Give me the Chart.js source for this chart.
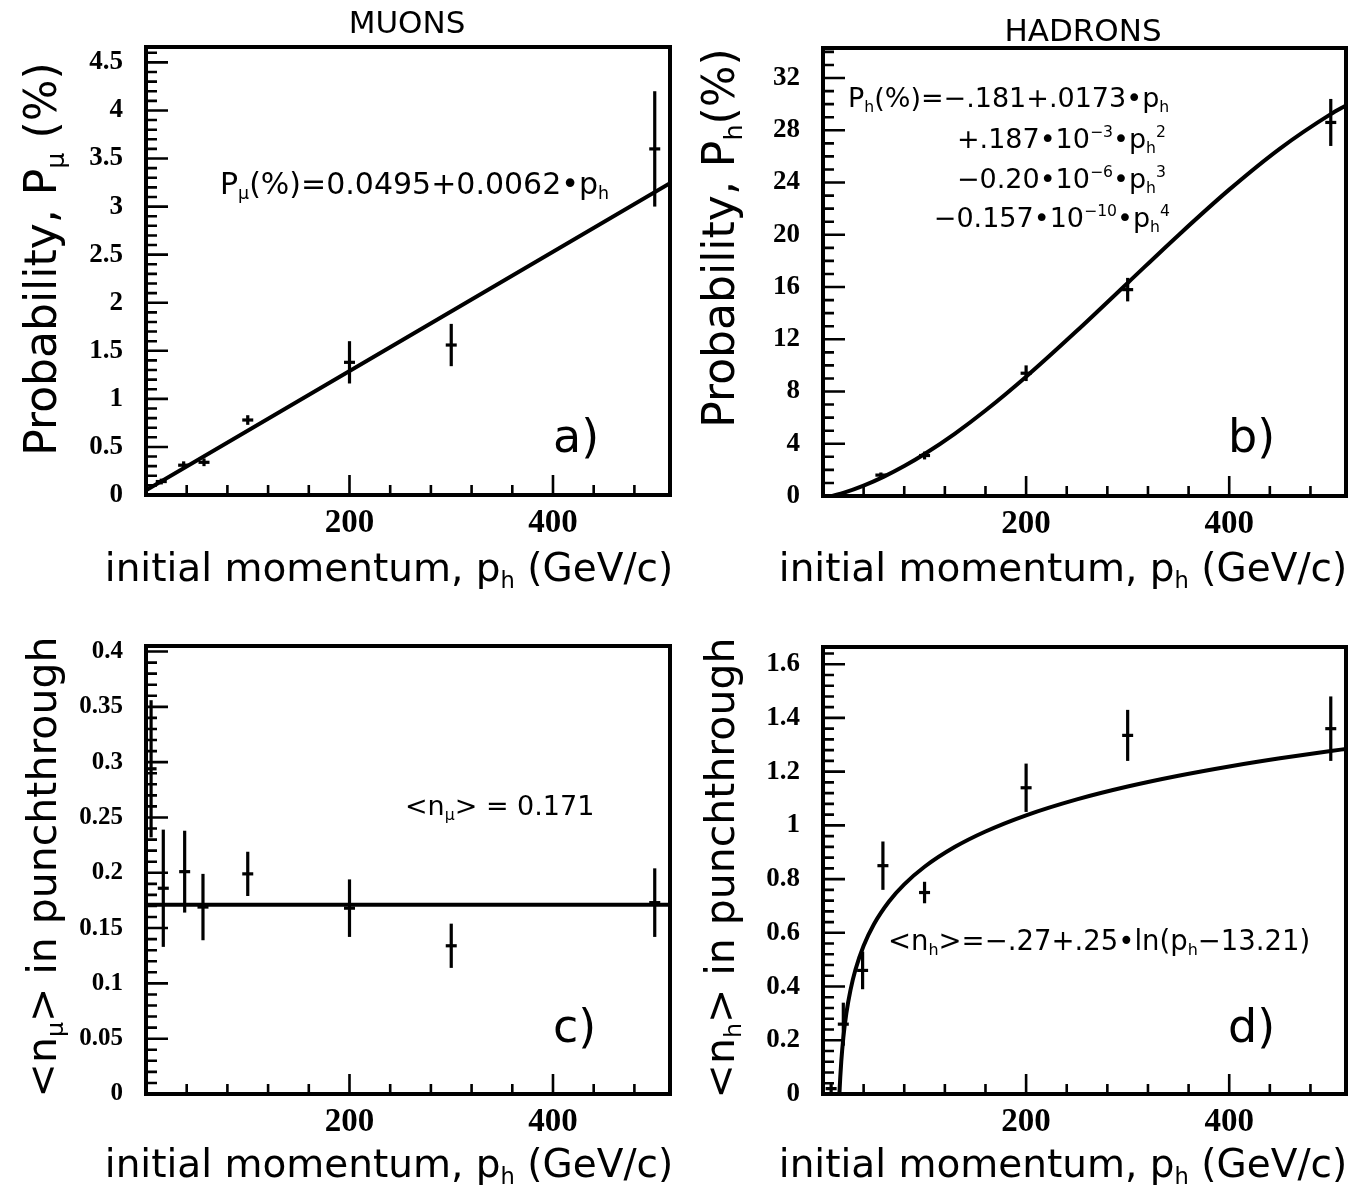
<!DOCTYPE html>
<html>
<head>
<meta charset="utf-8">
<title>Punchthrough probability and multiplicity</title>
<script src="https://cdn.jsdelivr.net/npm/chart.js@4.4.1/dist/chart.umd.min.js"></script>
<style>
  html, body { margin: 0; padding: 0; background: #fff; }
  #page { position: relative; width: 1352px; height: 1187px; overflow: hidden; }
  .pane { position: absolute; }
  .pane canvas { display: block; }
</style>
</head>
<body>
<div id="page">
  <div class="pane" style="left:0;top:0"><canvas id="panelA" width="676" height="600"></canvas></div>
  <div class="pane" style="left:676px;top:0"><canvas id="panelB" width="676" height="600"></canvas></div>
  <div class="pane" style="left:0;top:600px"><canvas id="panelC" width="676" height="587"></canvas></div>
  <div class="pane" style="left:676px;top:600px"><canvas id="panelD" width="676" height="587"></canvas></div>
</div>
<script>
// ---------- a) muon punchthrough probability ----------
const muProbMomentum = [15, 37, 57, 100, 200, 300, 500];
const muProbPercent  = [0.14, 0.31, 0.34, 0.78, 1.38, 1.56, 3.60];
const muProbError    = [0.03, 0.04, 0.04, 0.05, 0.22, 0.22, 0.60];
const muProbFitCoef  = [0.0495, 0.0062];            // P = c0 + c1*p
const muProbFitAt    = [0, 515];

// ---------- b) hadron punchthrough probability ----------
const hadProbMomentum = [57, 100, 200, 300, 500];
const hadProbPercent  = [1.6, 3.1, 9.4, 15.8, 28.6];
const hadProbError    = [0.2, 0.3, 0.6, 0.9, 1.8];
const hadProbFitCoef  = [-0.181, 0.0173, 0.187e-3, -0.20e-6, -0.157e-10];  // polynomial in p
const hadProbFitAt    = [0, 20, 40, 60, 80, 100, 130, 160, 200, 250, 300, 350, 400, 450, 500, 515];

// ---------- c) mean muon multiplicity ----------
const muMultMomentum = [5, 17, 38, 56, 100, 200, 300, 500];
const muMultMean     = [0.294, 0.186, 0.201, 0.169, 0.199, 0.168, 0.134, 0.173];
const muMultError    = [0.062, 0.053, 0.037, 0.030, 0.020, 0.026, 0.020, 0.031];
const muMultFitLevel = 0.171;
const muMultFitAt    = [0, 515];

// ---------- d) mean hadron multiplicity ----------
const hadMultMomentum = [8, 20, 39, 59, 100, 200, 300, 500];
const hadMultMean     = [0.02, 0.26, 0.46, 0.85, 0.75, 1.14, 1.335, 1.36];
const hadMultError    = [0.02, 0.08, 0.07, 0.09, 0.04, 0.09, 0.095, 0.12];
const hadMultFitCoef  = [-0.27, 0.25, 13.21];       // n = a + b*ln(p - c)
const hadMultFitAt    = [16.2, 17, 18, 20, 23, 27, 32, 40, 50, 65, 80, 100, 130, 160, 200, 250, 300, 350, 400, 450, 500, 515];

// ---------- axis ticks ----------
const momentumLabels = [200, 400];
const momentumMax    = 515;
const muProbTicks  = [0, 0.5, 1, 1.5, 2, 2.5, 3, 3.5, 4, 4.5];
const hadProbTicks = [0, 4, 8, 12, 16, 20, 24, 28, 32];
const muMultTicks  = [0, 0.05, 0.1, 0.15, 0.2, 0.25, 0.3, 0.35, 0.4];
const hadMultTicks = [0, 0.2, 0.4, 0.6, 0.8, 1, 1.2, 1.4, 1.6];

const SANS  = '"DejaVu Sans", "Noto Sans", sans-serif';
const SERIF = '"Liberation Serif", "Times New Roman", serif';

function poly(coef, p) { return coef.reduce((s, c, k) => s + c * Math.pow(p, k), 0); }
function logFit(coef, p) { return coef[0] + coef[1] * Math.log(p - coef[2]); }
function pairs(xs, ys) { return xs.map((x, i) => ({ x: x, y: ys[i] })); }

// inward ticks on left/bottom axes plus the heavy frame
const framePlugin = {
  id: 'frame',
  afterDraw(chart, args, opts) {
    const ctx = chart.ctx, a = chart.chartArea;
    const xs = chart.scales.x, ys = chart.scales.y;
    ctx.save();
    ctx.strokeStyle = '#000';
    ctx.lineCap = 'butt';
    ctx.lineWidth = 2.6;
    ctx.beginPath();
    const yMinor = opts.yMinor, yMajor = opts.yMajor;
    for (let k = 0; k * yMinor <= ys.max + 1e-9; k++) {
      const v = k * yMinor;
      const major = yMajor.some(m => Math.abs(m - v) < yMinor * 0.01);
      const py = ys.getPixelForValue(v);
      ctx.moveTo(a.left, py);
      ctx.lineTo(a.left + (major ? 22 : 11), py);
    }
    const xMinor = opts.xMinor, xMajor = opts.xMajor;
    for (let k = 1; k * xMinor < xs.max; k++) {
      const v = k * xMinor;
      const major = xMajor.some(m => Math.abs(m - v) < 1e-6);
      const px = xs.getPixelForValue(v);
      ctx.moveTo(px, a.bottom);
      ctx.lineTo(px, a.bottom - (major ? 20 : 10));
    }
    ctx.stroke();
    ctx.lineWidth = 4;
    ctx.strokeRect(a.left, a.top, a.right - a.left, a.bottom - a.top);
    ctx.restore();
  }
};

// vertical error bars from each dataset's "errors" array
const errorBarPlugin = {
  id: 'errorBars',
  afterDatasetsDraw(chart) {
    const ctx = chart.ctx, a = chart.chartArea;
    const xs = chart.scales.x, ys = chart.scales.y;
    ctx.save();
    ctx.beginPath();
    ctx.rect(a.left, a.top, a.right - a.left, a.bottom - a.top);
    ctx.clip();
    ctx.strokeStyle = '#000';
    ctx.lineWidth = 3.2;
    chart.data.datasets.forEach(ds => {
      if (!ds.errors) return;
      ds.data.forEach((pt, i) => {
        const e = ds.errors[i];
        const px = xs.getPixelForValue(pt.x);
        ctx.beginPath();
        ctx.moveTo(px, ys.getPixelForValue(pt.y - e));
        ctx.lineTo(px, ys.getPixelForValue(pt.y + e));
        ctx.stroke();
      });
    });
    ctx.restore();
  }
};

// free text with sub/superscripts
function drawRich(ctx, item) {
  const size = item.size, fam = item.family || SANS;
  let total = 0;
  const parts = item.segs.map(s => {
    const txt = Array.isArray(s) ? s[0] : s;
    const mode = Array.isArray(s) ? s[1] : '';
    const fs = mode ? size * 0.58 : size;
    ctx.font = fs + 'px ' + fam;
    const w = ctx.measureText(txt).width;
    total += w;
    return { txt, mode, fs, w };
  });
  ctx.save();
  ctx.translate(item.x, item.y);
  if (item.rotate) ctx.rotate(item.rotate);
  let x = item.align === 'center' ? -total / 2 : (item.align === 'right' ? -total : 0);
  ctx.fillStyle = '#000';
  ctx.textBaseline = 'alphabetic';
  ctx.textAlign = 'left';
  parts.forEach(p => {
    ctx.font = p.fs + 'px ' + fam;
    const dy = p.mode === 'sub' ? size * 0.18 : (p.mode === 'sup' ? -size * 0.42 : 0);
    ctx.fillText(p.txt, x, dy);
    x += p.w;
  });
  ctx.restore();
}
const notesPlugin = {
  id: 'notes',
  afterDraw(chart, args, opts) {
    (opts.items || []).forEach(it => drawRich(chart.ctx, it));
  }
};

const momentumTitle = ['initial momentum, p', ['h', 'sub'], ' (GeV/c)'];

function buildPanel(id, spec) {
  const cv = document.getElementById(id);
  const W = cv.width, H = cv.height, A = spec.area;
  return new Chart(cv, {
    type: 'scatter',
    data: {
      datasets: [
        {
          type: 'line', data: spec.fit, borderColor: '#000', borderWidth: 4,
          pointRadius: 0, cubicInterpolationMode: 'monotone', fill: false, order: 2
        },
        {
          data: spec.points, errors: spec.errors, pointStyle: 'line', pointRadius: 5.5,
          borderColor: '#000', backgroundColor: '#000', borderWidth: 3.2, order: 1
        }
      ]
    },
    options: {
      responsive: false, animation: false, events: [],
      layout: { autoPadding: false, padding: { left: 0, top: A.top, right: W - A.right, bottom: 0 } },
      plugins: {
        legend: { display: false }, tooltip: { enabled: false },
        frame: { yMinor: spec.yMinor, yMajor: spec.yTicks, xMinor: 40, xMajor: momentumLabels },
        notes: { items: spec.texts }
      },
      scales: {
        x: {
          type: 'linear', min: 0, max: momentumMax,
          grid: { display: false, drawTicks: false }, border: { display: false },
          afterFit: s => { s.height = H - A.bottom; },
          afterBuildTicks: s => { s.ticks = momentumLabels.map(v => ({ value: v })); },
          ticks: { font: { family: SERIF, weight: 'bold', size: 33 }, color: '#000', padding: 9,
                   maxRotation: 0, autoSkip: false, callback: v => String(v) }
        },
        y: {
          type: 'linear', min: 0, max: spec.yMax,
          grid: { display: false, drawTicks: false }, border: { display: false },
          afterFit: s => { s.width = A.left; },
          afterBuildTicks: s => { s.ticks = spec.yTicks.map(v => ({ value: v })); },
          ticks: { font: { family: SERIF, weight: 'bold', size: spec.yFont }, color: '#000', padding: 23,
                   autoSkip: false, callback: v => String(v) }
        }
      }
    },
    plugins: [framePlugin, errorBarPlugin, notesPlugin]
  });
}

buildPanel('panelA', {
  area: { left: 146, right: 670, top: 47, bottom: 495 },
  yMax: 4.66, yTicks: muProbTicks, yMinor: 0.1, yFont: 27,
  points: pairs(muProbMomentum, muProbPercent), errors: muProbError,
  fit: muProbFitAt.map(p => ({ x: p, y: poly(muProbFitCoef, p) })),
  texts: [
    { x: 407, y: 33, size: 31, align: 'center', segs: ['MUONS'] },
    { x: 56, y: 259, size: 44, align: 'center', rotate: -Math.PI / 2, segs: ['Probability, P', ['μ', 'sub'], ' (%)'] },
    { x: 389, y: 581, size: 39, align: 'center', segs: momentumTitle },
    { x: 220, y: 194, size: 30, segs: ['P', ['μ', 'sub'], '(%)=0.0495+0.0062•p', ['h', 'sub']] },
    { x: 553, y: 452, size: 46, segs: ['a)'] }
  ]
});

buildPanel('panelB', {
  area: { left: 147, right: 670, top: 48, bottom: 496 },
  yMax: 34.3, yTicks: hadProbTicks, yMinor: 1, yFont: 27,
  points: pairs(hadProbMomentum, hadProbPercent), errors: hadProbError,
  fit: hadProbFitAt.map(p => ({ x: p, y: poly(hadProbFitCoef, p) })),
  texts: [
    { x: 407, y: 41, size: 31, align: 'center', segs: ['HADRONS'] },
    { x: 58, y: 238, size: 44, align: 'center', rotate: -Math.PI / 2, segs: ['Probability, P', ['h', 'sub'], '(%)'] },
    { x: 387, y: 581, size: 39, align: 'center', segs: momentumTitle },
    { x: 172, y: 107, size: 27, segs: ['P', ['h', 'sub'], '(%)=−.181+.0173•p', ['h', 'sub']] },
    { x: 490, y: 148, size: 27, align: 'right', segs: ['+.187•10', ['−3', 'sup'], '•p', ['h', 'sub'], ['2', 'sup']] },
    { x: 490, y: 188, size: 27, align: 'right', segs: ['−0.20•10', ['−6', 'sup'], '•p', ['h', 'sub'], ['3', 'sup']] },
    { x: 494, y: 227, size: 27, align: 'right', segs: ['−0.157•10', ['−10', 'sup'], '•p', ['h', 'sub'], ['4', 'sup']] },
    { x: 552, y: 452, size: 46, segs: ['b)'] }
  ]
});

buildPanel('panelC', {
  area: { left: 146, right: 670, top: 46, bottom: 494 },
  yMax: 0.405, yTicks: muMultTicks, yMinor: 0.01, yFont: 25,
  points: pairs(muMultMomentum, muMultMean), errors: muMultError,
  fit: muMultFitAt.map(p => ({ x: p, y: muMultFitLevel })),
  texts: [
    { x: 56, y: 267, size: 41, align: 'center', rotate: -Math.PI / 2, segs: ['<n', ['μ', 'sub'], '> in punchthrough'] },
    { x: 389, y: 577, size: 39, align: 'center', segs: momentumTitle },
    { x: 405, y: 215, size: 27, segs: ['<n', ['μ', 'sub'], '> = 0.171'] },
    { x: 553, y: 442, size: 46, segs: ['c)'] }
  ]
});

buildPanel('panelD', {
  area: { left: 147, right: 670, top: 47, bottom: 494 },
  yMax: 1.664, yTicks: hadMultTicks, yMinor: 0.04, yFont: 27,
  points: pairs(hadMultMomentum, hadMultMean), errors: hadMultError,
  fit: hadMultFitAt.map(p => ({ x: p, y: logFit(hadMultFitCoef, p) })),
  texts: [
    { x: 58, y: 268, size: 41, align: 'center', rotate: -Math.PI / 2, segs: ['<n', ['h', 'sub'], '> in punchthrough'] },
    { x: 387, y: 577, size: 39, align: 'center', segs: momentumTitle },
    { x: 212, y: 350, size: 27.5, segs: ['<n', ['h', 'sub'], '>=−.27+.25•ln(p', ['h', 'sub'], '−13.21)'] },
    { x: 552, y: 442, size: 46, segs: ['d)'] }
  ]
});
</script>
</body>
</html>
